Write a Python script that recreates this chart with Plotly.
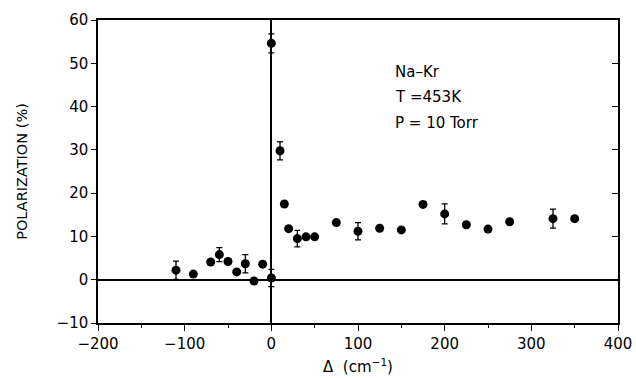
import plotly.graph_objects as go

delta = [-110, -90, -70, -60, -50, -40, -30, -20, -10, 0, 0, 10, 15, 20, 30, 40, 50,
         75, 100, 125, 150, 175, 200, 225, 250, 275, 325, 350]
polarization = [2.2, 1.3, 4.1, 5.8, 4.2, 1.8, 3.7, -0.3, 3.6, 0.4, 54.6, 29.8, 17.5, 11.8,
                9.5, 9.9, 9.9, 13.2, 11.2, 11.9, 11.5, 17.4, 15.2, 12.7, 11.7, 13.4, 14.1, 14.1]
err = [2.1, 0, 0, 1.6, 0, 0, 2.1, 0, 0, 2.0, 2.2, 2.1, 0, 0, 1.9, 0, 0,
       0, 2.0, 0, 0, 0, 2.3, 0, 0, 0, 2.2, 0]

x_ticks = [-200, -100, 0, 100, 200, 300, 400]
y_ticks = [-10, 0, 10, 20, 30, 40, 50, 60]
info_lines = ["Na\u2013Kr", "T =453K", "P = 10 Torr"]

FONT = "DejaVu Sans"

fig = go.Figure()
fig.add_trace(go.Scatter(
    x=delta, y=polarization, mode="markers",
    marker=dict(color="black", size=9),
    error_y=dict(type="data", array=err, visible=True, color="black",
                 thickness=1.3, width=3),
    showlegend=False,
))
# helper trace for right-hand inner ticks
fig.add_trace(go.Scatter(x=[None], y=[None], yaxis="y2", showlegend=False,
                         hoverinfo="skip"))

fig.update_layout(
    width=636, height=378,
    margin=dict(l=98, r=18, t=20, b=55),
    paper_bgcolor="white", plot_bgcolor="white",
    font=dict(family=FONT, color="black", size=15),
    xaxis=dict(
        range=[-200, 400], tickvals=x_ticks, automargin=False,
        ticktext=[("\u2212" + str(-v)) if v < 0 else str(v) for v in x_ticks],
        showgrid=False, zeroline=True, zerolinecolor="black", zerolinewidth=1.5,
        showline=True, linecolor="black", linewidth=1.5, mirror=True,
        ticks="outside", ticklen=6, tickwidth=1.3, tickcolor="black",
        minor=dict(dtick=50, ticks="outside", ticklen=3, tickwidth=1, tickcolor="black"),
        title=dict(text="\u0394  (cm<sup>\u22121</sup>)", font=dict(size=15), standoff=10),
        tickfont=dict(size=15),
    ),
    yaxis=dict(
        range=[-10, 60], tickvals=y_ticks, automargin=False,
        ticktext=[("\u2212" + str(-v)) if v < 0 else str(v) for v in y_ticks],
        showgrid=False, zeroline=True, zerolinecolor="black", zerolinewidth=1.5,
        showline=True, linecolor="black", linewidth=1.5, mirror=True,
        ticks="outside", ticklen=5, tickwidth=1.3, tickcolor="black",
        title=dict(text="POLARIZATION (%)", font=dict(size=14.5), standoff=26),
        tickfont=dict(size=15),
    ),
    yaxis2=dict(
        range=[-10, 60], tickvals=y_ticks, overlaying="y", side="right",
        showticklabels=False, showgrid=False, zeroline=False, showline=False,
        automargin=False,
        ticks="inside", ticklen=6, tickwidth=1.3, tickcolor="black",
    ),
)

for i, line in enumerate(info_lines):
    fig.add_annotation(x=140, y=47.9 - i * 5.8, xref="x", yref="y", text=line,
                       showarrow=False, xanchor="left", yanchor="middle",
                       font=dict(size=15, family=FONT))

fig.write_html("out.html")
